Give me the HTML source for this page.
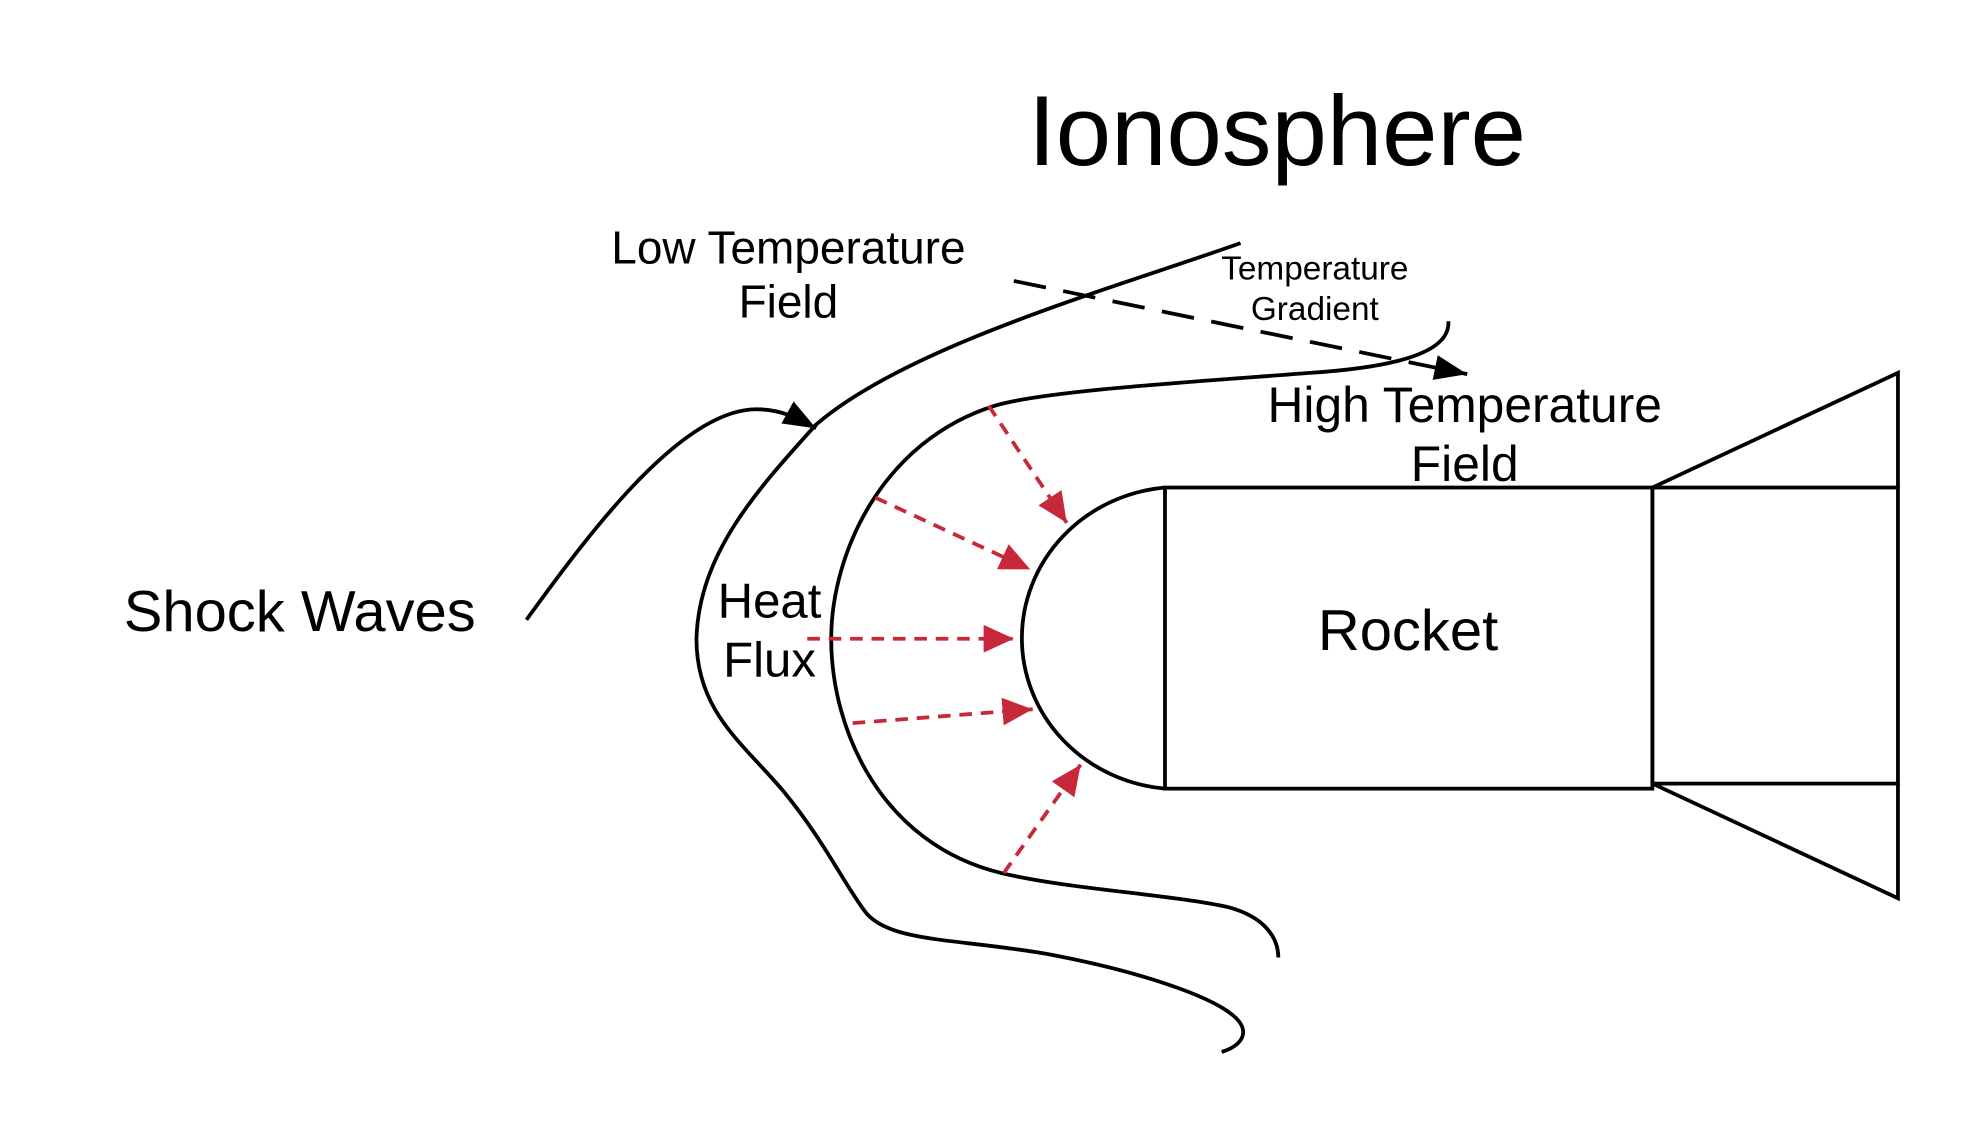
<!DOCTYPE html>
<html><head><meta charset="utf-8"><style>
html,body{margin:0;padding:0;background:#fff;}
svg{display:block;}
text{font-family:"Liberation Sans",Arial,sans-serif;fill:#000;text-anchor:middle;}
</style></head><body>
<svg width="1971" height="1125" viewBox="0 0 1565 893" preserveAspectRatio="none" xmlns="http://www.w3.org/2000/svg">
<defs>
<marker id="ar" markerWidth="24" markerHeight="22" refX="24" refY="11" orient="auto" markerUnits="userSpaceOnUse"><path d="M0,0 L24,11 L0,22 z" fill="#c8293a"/></marker>
<marker id="ak" markerWidth="26" markerHeight="20" refX="26" refY="10" orient="auto" markerUnits="userSpaceOnUse"><path d="M0,0 L26,10 L0,20 z" fill="#000"/></marker>
</defs>
<text x="1014" y="131" font-size="79">Ionosphere</text>
<text x="626" y="209" font-size="36.5">Low Temperature</text>
<text x="626" y="252" font-size="36.5">Field</text>
<text x="1044" y="222" font-size="26.5">Temperature</text>
<text x="1044" y="254" font-size="26.5">Gradient</text>
<text x="1163" y="335" font-size="39.5">High Temperature</text>
<text x="1163" y="382" font-size="39.5">Field</text>
<text x="238" y="501" font-size="46">Shock Waves</text>
<text x="611" y="490" font-size="39">Heat</text>
<text x="611" y="537" font-size="39">Flux</text>
<text x="1118" y="516" font-size="46">Rocket</text>
<g fill="none" stroke="#000" stroke-width="3">
<path d="M925,387 A125,120 0 0 0 925,626"/>
<rect x="925" y="387" width="387" height="239"/>
<rect x="1312" y="387" width="195" height="235"/>
<path d="M1312,387 L1507,296 L1507,387"/>
<path d="M1312,622 L1507,713 L1507,622"/>
<path d="M1150,255 C1152,282 1100,292 1040,296 C950,303 830,310 790,322 C700,350 660,440 660,507 C660,580 700,670 795,693 C850,706 930,710 975,720 C1005,728 1015,745 1015,760"/>
<path d="M985,193 C880,230 720,275 648,337 C600,390 555,440 553,507 C553,565 590,590 622,628 C655,668 672,705 688,725 C708,748 760,745 830,757 C900,770 985,795 987,818 C988,826 980,832 970,835"/>
<path d="M418,492 C470,420 545,320 605,325 C620,326 630,330 648,340" marker-end="url(#ak)"/>
<path d="M805,223 L1165,297" stroke-dasharray="26,14" marker-end="url(#ak)"/>
</g>
<g fill="none" stroke="#c8293a" stroke-width="3" stroke-dasharray="10,7">
<path d="M785,322 L847,415" marker-end="url(#ar)"/>
<path d="M695,395 L818,452" marker-end="url(#ar)"/>
<path d="M641,507 L805,507" marker-end="url(#ar)"/>
<path d="M677,574 L820,563" marker-end="url(#ar)"/>
<path d="M797,693 L858,607" marker-end="url(#ar)"/>
</g>
</svg>
</body></html>
